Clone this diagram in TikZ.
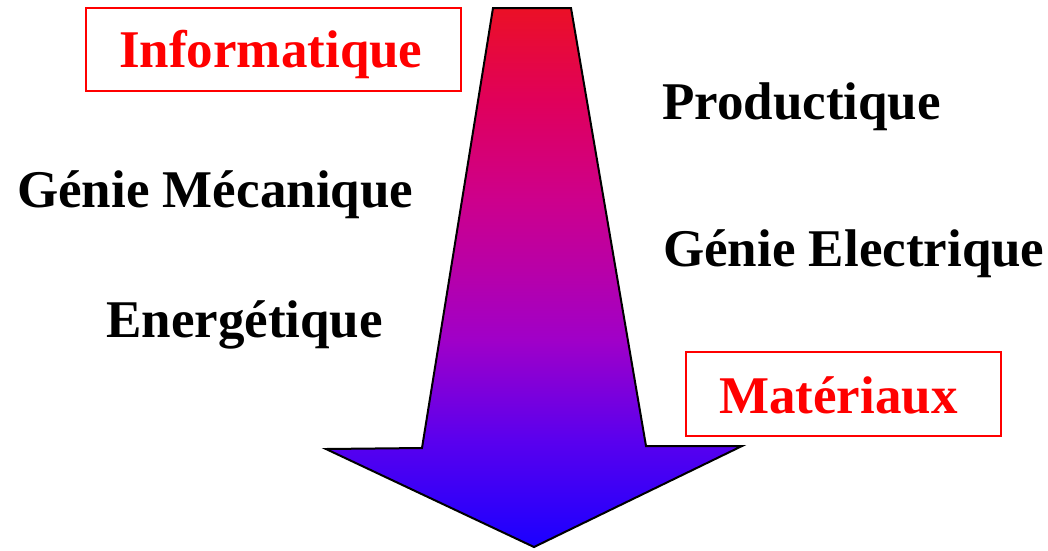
\documentclass[tikz,border=0pt]{standalone}
\usepackage{fontspec}
\setmainfont{Liberation Serif}
\definecolor{ca}{RGB}{235,16,38}
\definecolor{cb}{RGB}{224,0,90}
\definecolor{cc}{RGB}{205,0,140}
\definecolor{cd}{RGB}{184,0,168}
\definecolor{ce}{RGB}{160,0,200}
\definecolor{cf}{RGB}{90,0,238}
\definecolor{cg}{RGB}{26,0,255}
\pgfdeclareverticalshading{arrowshade}{100bp}{color(0bp)=(cg); color(25bp)=(cg); color(34.93bp)=(cf); color(44.2bp)=(ce); color(50.7bp)=(cd); color(57.19bp)=(cc); color(66.47bp)=(cb); color(75bp)=(ca); color(100bp)=(ca)}
\begin{document}
\begin{tikzpicture}[x=1pt,y=-1pt,
  lbl/.style={anchor=base west,inner sep=0pt,font=\fontsize{53}{60}\selectfont\bfseries},
  redlbl/.style={lbl,text=red},
  redbox/.style={draw=red,line width=2pt}]
\useasboundingbox (0,0) rectangle (1048,550);
% arrow
\draw[line width=2pt,line join=miter,shading=arrowshade]
  (493,8) -- (571,8) -- (646,446) -- (742,446) -- (534,547) -- (326,449) -- (422,448) -- cycle;
% boxes
\draw[redbox] (86,8) rectangle (461,91);
\draw[redbox] (686,352) rectangle (1001,436);
\node[redlbl] (info) at (119,67) {Informatique};
\node[redlbl] (mat) at (719,413) {Matériaux};
\node[lbl] (prod) at (662,119) {Productique};
\node[lbl] (gm) at (17,207) {Génie Mécanique};
\node[lbl] (ge) at (663,266) {Génie Electrique};
\node[lbl] (en) at (106,337) {Energétique};
\end{tikzpicture}
\end{document}
